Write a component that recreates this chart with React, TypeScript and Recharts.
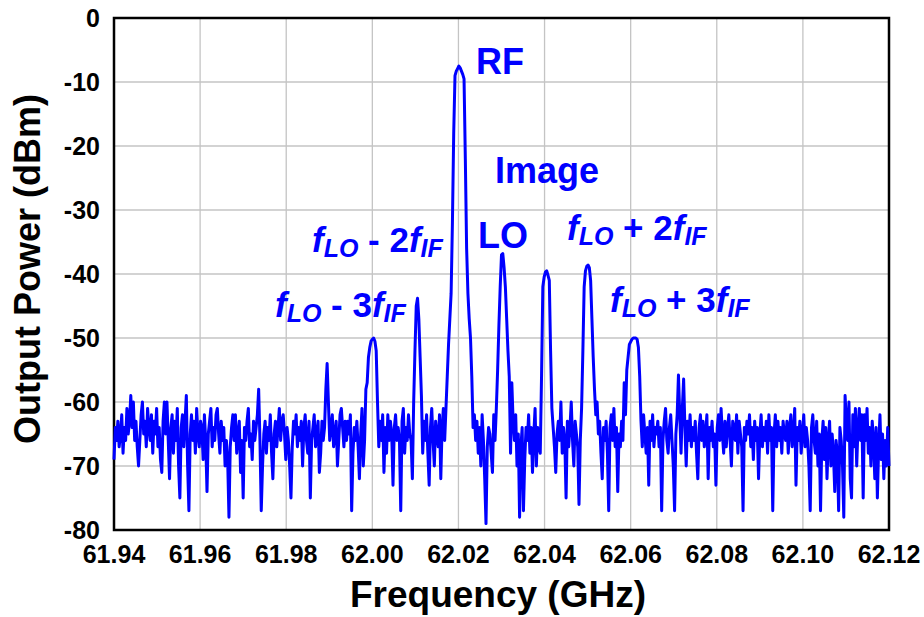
import { LineChart, Line, XAxis, YAxis, CartesianGrid, ReferenceArea } from "recharts"

// spectrum analyzer sweep: 601 points, 61.94 .. 62.12 GHz
const START_GHZ = 61.94
const STEP_GHZ = 0.0003

const powerDbm = [
  -69, -64, -66, -63, -67, -65, -62, -68, -64, -66, -61, -65, -63, -59, -64, -60, -66, -63, -67, -70,
  -66, -62, -60, -65, -63, -67, -61, -64, -66, -62, -68, -63, -65, -61, -67, -64, -69, -71, -63, -60,
  -65, -60, -66, -72, -64, -62, -68, -63, -66, -61, -70, -75, -64, -62, -67, -63, -59, -70, -77, -65,
  -62, -66, -63, -68, -61, -65, -67, -63, -64, -69, -62, -66, -74, -65, -63, -61, -67, -64, -66, -62,
  -61, -65, -68, -63, -66, -64, -70, -66, -69, -78, -67, -64, -62, -66, -62, -68, -65, -63, -71, -66,
  -75, -64, -66, -63, -61, -67, -65, -69, -63, -66, -64, -62, -58, -66, -77, -70, -65, -63, -68, -64,
  -66, -62, -68, -72, -65, -63, -67, -64, -61, -66, -63, -62, -65, -69, -64, -66, -70, -75, -67, -63,
  -65, -62, -67, -64, -66, -63, -70, -64, -62, -66, -68, -63, -75, -66, -64, -62, -67, -65, -63, -71,
  -68, -63, -66, -64, -58, -54, -60, -66, -64, -62, -67, -65, -63, -70, -66, -62, -61, -64, -67, -63,
  -66, -63, -65, -62, -77, -68, -64, -66, -63, -67, -72, -65, -61, -70, -66, -58, -57, -53, -51.5, -50.5,
  -50.2, -50, -50.5, -52, -60, -67, -63, -66, -62, -71, -64, -68, -62, -66, -63, -65, -73, -64, -62, -66,
  -64, -66, -77, -63, -61, -68, -64, -66, -62, -65, -66, -72, -60, -52, -45, -43.8, -47, -53, -59, -68,
  -63, -66, -62, -68, -73, -64, -61, -66, -70, -63, -65, -67, -62, -72, -64, -61, -66, -61, -56, -51,
  -47, -43, -32, -18, -9, -8.3, -7.9, -7.5, -7.8, -8.3, -8.8, -9.5, -22, -36, -43, -47, -50, -56, -64, -62,
  -66, -63, -68, -64, -70, -62, -66, -72, -79, -67, -64, -65, -68, -71, -62, -66, -61, -55, -48, -42,
  -37, -36.8, -39, -42, -47, -52, -56, -68, -57, -63, -66, -62, -70, -65, -78, -67, -64, -77, -69, -64,
  -66, -62, -68, -64, -71, -65, -61, -70, -64, -67, -68, -56, -42, -40.5, -39.7, -39.5, -40.2, -41, -52, -61,
  -64, -67, -71, -65, -63, -66, -60, -68, -64, -66, -75, -63, -67, -64, -60, -66, -70, -63, -65, -67,
  -76, -66, -61, -52, -42, -39.5, -38.8, -38.6, -39, -41, -47, -53, -58, -62, -60, -65, -63, -68, -72, -64,
  -66, -63, -68, -77, -64, -62, -66, -61, -67, -64, -74, -65, -67, -63, -66, -57, -62, -55, -53, -51,
  -50.6, -50.2, -50, -50, -50, -50.2, -51.5, -56, -63, -67, -62, -65, -68, -64, -73, -63, -66, -62, -67, -64,
  -65, -63, -67, -64, -77, -66, -63, -61, -66, -68, -64, -62, -66, -70, -77, -65, -62, -55.8, -62, -68,
  -61, -56.4, -64, -70, -63, -66, -62, -67, -64, -66, -63, -68, -72, -64, -62, -66, -63, -67, -65, -62,
  -72, -64, -66, -63, -67, -65, -73, -64, -62, -66, -61, -65, -68, -63, -67, -64, -62, -66, -70, -63,
  -64, -66, -62, -68, -63, -65, -67, -77, -64, -66, -63, -65, -62, -67, -64, -69, -63, -66, -64, -72,
  -65, -62, -67, -64, -66, -63, -68, -62, -66, -64, -77, -65, -62, -67, -63, -66, -64, -68, -63, -65,
  -66, -63, -68, -64, -62, -67, -65, -61, -73, -64, -66, -63, -68, -65, -62, -67, -64, -66, -70, -77,
  -64, -62, -66, -68, -63, -70, -65, -77, -66, -63, -69, -64, -72, -66, -63, -70, -65, -68, -74, -66,
  -68, -77, -64, -66, -70, -78, -59, -63, -66, -60, -72, -75, -62, -67, -61, -70, -64, -61, -66, -62,
  -75, -62, -66, -61, -68, -64, -70, -63, -66, -72, -64, -75, -67, -62, -69, -65, -72, -66, -70, -64,
  -70,
]

const freqTicks = [61.94, 61.96, 61.98, 62.0, 62.02, 62.04, 62.06, 62.08, 62.1, 62.12]
const powerTicks = [-80, -70, -60, -50, -40, -30, -20, -10, 0]

const data = powerDbm.map((p, i) => ({
  freq: +(START_GHZ + i * STEP_GHZ).toFixed(4),
  power: p,
}))

const BLUE = "#0000ff"
const FONT = "Arial, 'Liberation Sans', Helvetica, sans-serif"

const tickStyle = { fill: "#000", fontSize: 25, fontWeight: "bold", fontFamily: FONT }

// f_LO +/- n f_IF label, subscripts dropped a bit
function MixLabel({ x, y, op }: { x: number; y: number; op: string }) {
  return (
    <text x={x} y={y} fill={BLUE} fontFamily={FONT} fontWeight="bold" fontSize={35}>
      <tspan fontStyle="italic">f</tspan>
      <tspan fontStyle="italic" fontSize={25} dy={5}>LO</tspan>
      <tspan dy={-5}>{op}</tspan>
      <tspan fontStyle="italic">f</tspan>
      <tspan fontStyle="italic" fontSize={25} dy={5}>IF</tspan>
    </text>
  )
}

export default function App() {
  return (
    <div style={{ position: "absolute", left: 0, top: 0, background: "#fff" }}>
      <LineChart width={924} height={617} data={data} margin={{ top: 18, right: 35, bottom: 0, left: 0 }}>
        <CartesianGrid stroke="#c4c4c4" strokeWidth={1.3} />
        <XAxis
          type="number"
          dataKey="freq"
          domain={[61.94, 62.12]}
          ticks={freqTicks}
          interval={0}
          tickFormatter={(v: number) => v.toFixed(2)}
          height={87}
          tickLine={false}
          axisLine={false}
          tickMargin={9}
          tick={tickStyle}
        />
        <YAxis
          type="number"
          domain={[-80, 0]}
          ticks={powerTicks}
          interval={0}
          width={114}
          tickLine={false}
          axisLine={false}
          tickMargin={8}
          tick={tickStyle}
        />
        <Line
          type="linear"
          dataKey="power"
          stroke={BLUE}
          strokeWidth={3}
          strokeLinejoin="round"
          dot={false}
          isAnimationActive={false}
        />
        <ReferenceArea x1={61.94} x2={62.12} y1={-80} y2={0} fill="none" stroke="#000" strokeWidth={2.5} />

        <text x={476} y={74} fill={BLUE} fontFamily={FONT} fontWeight="bold" fontSize={36}>RF</text>
        <text x={495} y={183} fill={BLUE} fontFamily={FONT} fontWeight="bold" fontSize={36}>Image</text>
        <text x={478} y={248} fill={BLUE} fontFamily={FONT} fontWeight="bold" fontSize={36}>LO</text>
        <MixLabel x={312} y={252} op=" - 2" />
        <MixLabel x={275} y={317} op=" - 3" />
        <MixLabel x={567} y={240} op=" + 2" />
        <MixLabel x={610} y={312} op=" + 3" />

        <text x={498} y={607} textAnchor="middle" fontFamily={FONT} fontWeight="bold" fontSize={37}>
          Frequency (GHz)
        </text>
        <text
          transform="translate(40,269) rotate(-90)"
          textAnchor="middle"
          fontFamily={FONT}
          fontWeight="bold"
          fontSize={36}
        >
          Output Power (dBm)
        </text>
      </LineChart>
    </div>
  )
}
